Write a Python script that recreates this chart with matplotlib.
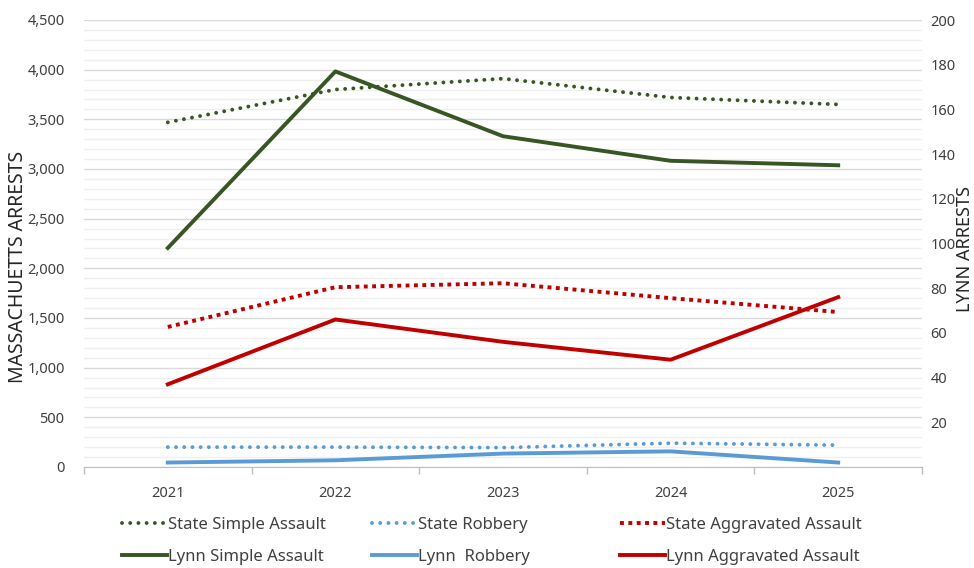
import matplotlib
matplotlib.use("Agg")
import matplotlib.pyplot as plt
from matplotlib.ticker import MultipleLocator, FuncFormatter, FixedLocator

plt.rcParams['font.family'] = ['Noto Sans', 'DejaVu Sans']

years = ["2021", "2022", "2023", "2024", "2025"]
state_simple = [3470, 3800, 3910, 3720, 3650]
state_robbery = [200, 200, 195, 240, 220]
state_agg = [1410, 1810, 1850, 1700, 1560]
lynn_simple = [98, 177, 148, 137, 135]
lynn_robbery = [2, 3, 6, 7, 2]
lynn_agg = [37, 66, 56, 48, 76]

green = "#375623"
blue = "#5B9BD5"
red = "#C00000"
txt = "#404040"

fig = plt.figure(figsize=(9.74, 5.68), dpi=100)
ax = fig.add_axes([84/974, 1-467/568, (922-84)/974, (467-20)/568])
ax2 = ax.twinx()

x = list(range(len(years)))
LW = 2.8
round_dot = (0, (0.01, 2.1))
sq_dot = (0, (1.0, 1.15))
l1, = ax.plot(x, state_simple, color=green, lw=LW, linestyle=round_dot, dash_capstyle='round', label="State Simple Assault")
l2, = ax.plot(x, state_robbery, color=blue, lw=LW, linestyle=round_dot, dash_capstyle='round', label="State Robbery")
l3, = ax.plot(x, state_agg, color=red, lw=LW, linestyle=sq_dot, dash_capstyle='butt', label="State Aggravated Assault")
l4, = ax2.plot(x, lynn_simple, color=green, lw=LW, label="Lynn Simple Assault")
l5, = ax2.plot(x, lynn_robbery, color=blue, lw=LW, label="Lynn  Robbery")
l6, = ax2.plot(x, lynn_agg, color=red, lw=LW, label="Lynn Aggravated Assault")

ax.set_xlim(-0.5, len(years) - 0.5)
ax.set_ylim(0, 4500)
ax2.set_ylim(0, 200)

ax.yaxis.set_major_locator(MultipleLocator(500))
ax.yaxis.set_minor_locator(MultipleLocator(100))
ax.yaxis.set_major_formatter(FuncFormatter(lambda v, p: f"{int(v):,}"))
ax.grid(which='major', axis='y', color='#d9d9d9', lw=1.0)
ax.grid(which='minor', axis='y', color='#efefef', lw=1.0)
ax.set_axisbelow(True)

ax.set_xticks(x)
ax.set_xticklabels(years)
ax.xaxis.set_minor_locator(FixedLocator([i - 0.5 for i in range(len(years) + 1)]))
ax.tick_params(axis='x', which='major', length=0, pad=14, labelsize=10.5, labelcolor=txt)
ax.tick_params(axis='x', which='minor', length=5, color='#bfbfbf', width=1)
ax.tick_params(axis='y', which='both', length=0, pad=14, labelsize=10.5, labelcolor=txt)

ax2.set_yticks(list(range(20, 201, 20)))
ax2.tick_params(axis='y', length=0, pad=6, labelsize=10.5, labelcolor=txt)

for a in (ax, ax2):
    for s in ('top', 'left', 'right'):
        a.spines[s].set_visible(False)
ax.spines['bottom'].set_color('#bfbfbf')
ax2.spines['bottom'].set_visible(False)

fig.text(18/974, 1-267/568, "MASSACHUETTS ARRESTS", rotation=90, ha='center', va='center', fontsize=14, color='#262626')
fig.text(965/974, 1-249/568, "LYNN ARRESTS", rotation=90, ha='center', va='center', fontsize=13, color='#262626')

groups = [([l1, l4], 122), ([l2, l5], 372), ([l3, l6], 620)]
for hs, xpx in groups:
    leg = fig.legend(handles=hs, loc='center left', bbox_to_anchor=(xpx/974, 1-541/568),
                     frameon=False, fontsize=12, borderpad=0, borderaxespad=0,
                     handlelength=2.7, handletextpad=0.05, labelspacing=0.95)
    for t in leg.get_texts():
        t.set_color(txt)

fig.savefig("out.png", dpi=100)
